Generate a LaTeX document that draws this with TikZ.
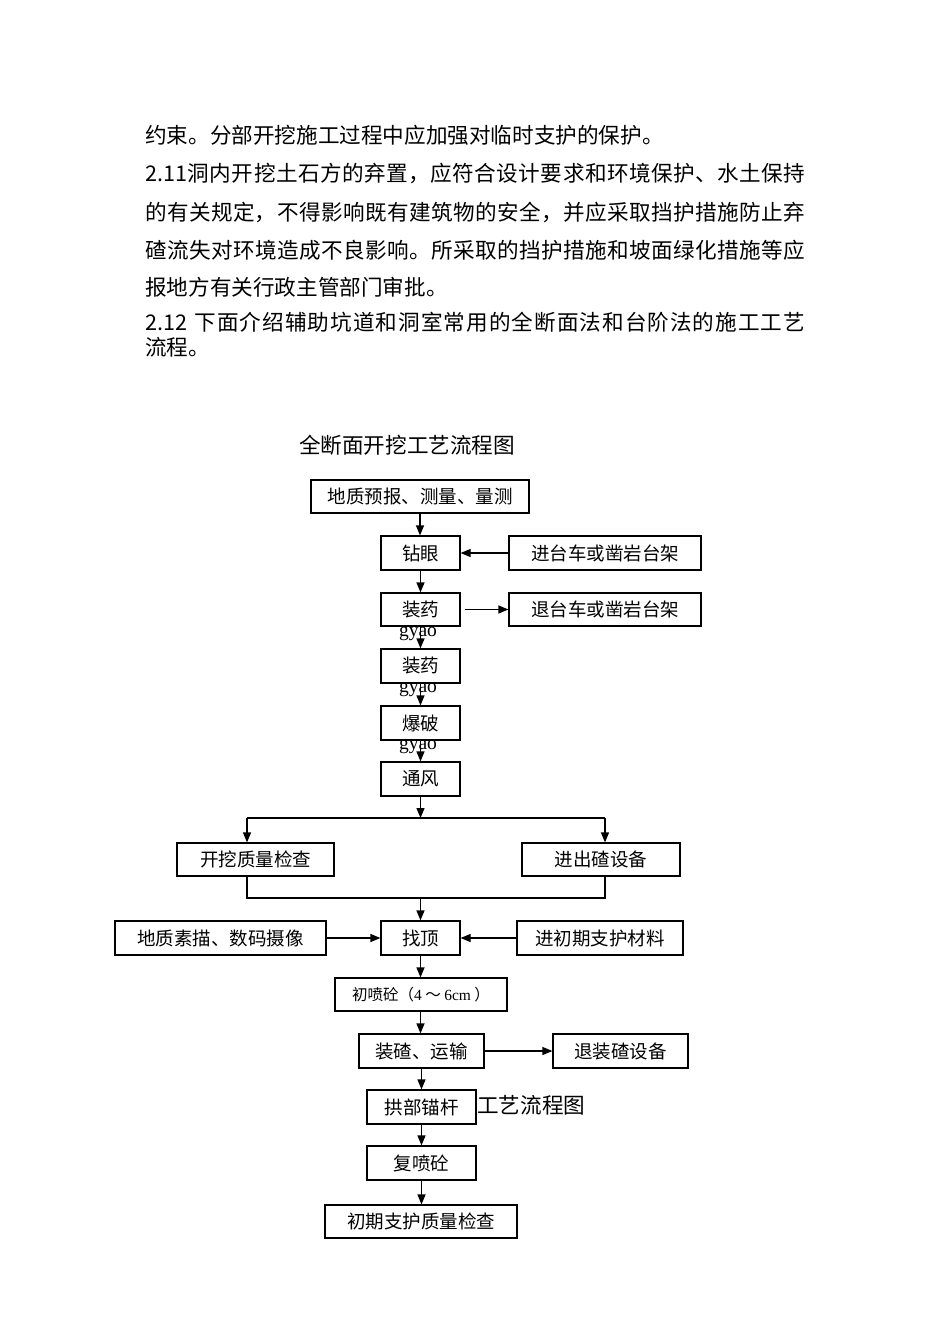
\documentclass[tikz,border=0pt]{standalone}
\usepackage{fontspec}
\setmainfont{Noto Sans CJK SC}
\newfontfamily\latinfont{Liberation Serif}
\usetikzlibrary{arrows.meta}
\XeTeXlinebreaklocale "zh"
\XeTeXlinebreakskip=0pt plus 1pt

\newcommand{\zhengwen}{\fontsize{21.6}{38}\selectfont}
\newcommand{\tuzi}{\fontsize{18.5}{22}\selectfont}
\newcommand{\xiaozi}{\fontsize{15.5}{18}\selectfont}

\tikzset{
  kuang/.style={draw, line width=1.2pt, fill=white, minimum height=34pt, inner sep=0pt, font=\tuzi},
  jian/.style={line width=1.2pt, -{Triangle[length=10pt,width=8pt]}},
  xian/.style={line width=1.2pt},
  hang/.style={anchor=west, inner sep=0pt, font=\zhengwen},
  duan/.style={hang, text width=660pt, align=justify},
  pinyin/.style={inner sep=0pt, font=\latinfont\fontsize{19.5}{20}\selectfont},
}

\begin{document}
\begin{tikzpicture}[x=1pt,y=-1pt]
\useasboundingbox (0,0) rectangle (950,1344);

\node[hang] (hang1) at (145,135) {约束。分部开挖施工过程中应加强对临时支护的保护。};
\node[duan] (hang2) at (145,173) {\parindent=0pt\parfillskip=0pt 2.11洞内开挖土石方的弃置，应符合设计要求和环境保护、水土保持\par};
\node[duan] (hang3) at (145,212) {\parindent=0pt\parfillskip=0pt 的有关规定，不得影响既有建筑物的安全，并应采取挡护措施防止弃\par};
\node[duan] (hang4) at (145,250) {\parindent=0pt\parfillskip=0pt 碴流失对环境造成不良影响。所采取的挡护措施和坡面绿化措施等应\par};
\node[hang] (hang5) at (145,287) {报地方有关行政主管部门审批。};
\node[duan] (hang6) at (145,322) {\parindent=0pt\parfillskip=0pt 2.12 下面介绍辅助坑道和洞室常用的全断面法和台阶法的施工工艺\par};
\node[hang] (hang7) at (145,347) {流程。};

\node[font=\zhengwen] (biaoti) at (407,445) {全断面开挖工艺流程图};
\node[hang] (biaoti2) at (477,1105) {工艺流程图};

\node[pinyin] (py1) at (418,634) {gyao};
\node[pinyin] (py2) at (418,690) {gyao};
\node[pinyin] (py3) at (418,747) {gyao};

\node[kuang, minimum width=218pt, minimum height=33pt] (yubao) at (420,496.5) {地质预报、测量、量测};
\node[kuang, minimum width=79pt] (zuanyan) at (420.5,553) {钻眼};
\node[kuang, minimum width=192pt] (jintaiche) at (605,553) {进台车或凿岩台架};
\node[kuang, minimum width=79pt, minimum height=33pt] (zhuangyao) at (420.5,609.5) {装药};
\node[kuang, minimum width=192pt, minimum height=33pt] (tuitaiche) at (605,609.5) {退台车或凿岩台架};
\node[kuang, minimum width=79pt] (zhuangyaob) at (420.5,666) {装药};
\node[kuang, minimum width=79pt] (baopo) at (420.5,723) {爆破};
\node[kuang, minimum width=79pt] (tongfeng) at (420.5,779) {通风};

\coordinate (fenzhong) at (420.5,818);
\coordinate (fenzuo) at (247,818);
\coordinate (fenyou) at (605,818);
\coordinate (hezuo) at (247,898);
\coordinate (heyou) at (605,898);

\node[kuang, minimum width=157pt, minimum height=33pt] (kaiwa) at (255.5,859.5) {开挖质量检查};
\node[kuang, minimum width=158pt, minimum height=33pt] (chuzha) at (601,859.5) {进出碴设备};
\node[kuang, minimum width=79pt] (zhaoding) at (420.5,938) {找顶};
\node[kuang, minimum width=211pt] (sumiao) at (220.5,938) {地质素描、数码摄像};
\node[kuang, minimum width=166pt] (cailiao) at (600,938) {进初期支护材料};
\node[kuang, minimum width=172pt, minimum height=33pt, font=\xiaozi] (chupen) at (421,994.5) {初喷砼（{\latinfont 4} ～ {\latinfont 6cm} ）};
\node[kuang, minimum width=125pt] (zhuangzha) at (421.5,1051) {装碴、运输};
\node[kuang, minimum width=135pt] (tuizha) at (620.5,1051) {退装碴设备};
\node[kuang, minimum width=109pt] (maogan) at (421.5,1107) {拱部锚杆};
\node[kuang, minimum width=109pt] (fupen) at (421.5,1163) {复喷砼};
\node[kuang, minimum width=192pt, minimum height=33pt] (jiancha) at (421,1221.5) {初期支护质量检查};

\draw[jian] (yubao.south) -- (yubao.south |- zuanyan.north);
\draw[jian] (jintaiche.west) -- (zuanyan.east);
\draw[jian] (zuanyan.south) -- (zhuangyao.north);
\draw[jian] ([xshift=4pt]zhuangyao.east) -- (tuitaiche.west);
\draw[jian] (zhuangyao.south) -- (zhuangyaob.north);
\draw[jian] (zhuangyaob.south) -- (baopo.north);
\draw[jian] (baopo.south) -- (tongfeng.north);
\draw[jian] (tongfeng.south) -- (fenzhong);
\draw[xian] (fenzuo) -- (fenyou);
\draw[jian] (fenzuo) -- (fenzuo |- kaiwa.north);
\draw[jian] (fenyou) -- (fenyou |- chuzha.north);
\draw[xian] (fenzuo |- kaiwa.south) -- (hezuo) -- (heyou) -- (fenyou |- chuzha.south);
\draw[jian] (zhaoding.north |- hezuo) -- (zhaoding.north);
\draw[jian] (sumiao.east) -- (zhaoding.west);
\draw[jian] (cailiao.west) -- (zhaoding.east);
\draw[jian] (zhaoding.south) -- (zhaoding.south |- chupen.north);
\draw[jian] (zhaoding.south |- chupen.south) -- (zhaoding.south |- zhuangzha.north);
\draw[jian] (zhuangzha.east) -- (tuizha.west);
\draw[jian] (zhuangzha.south) -- (maogan.north);
\draw[jian] (maogan.south) -- (fupen.north);
\draw[jian] (fupen.south) -- (fupen.south |- jiancha.north);
\end{tikzpicture}
\end{document}
